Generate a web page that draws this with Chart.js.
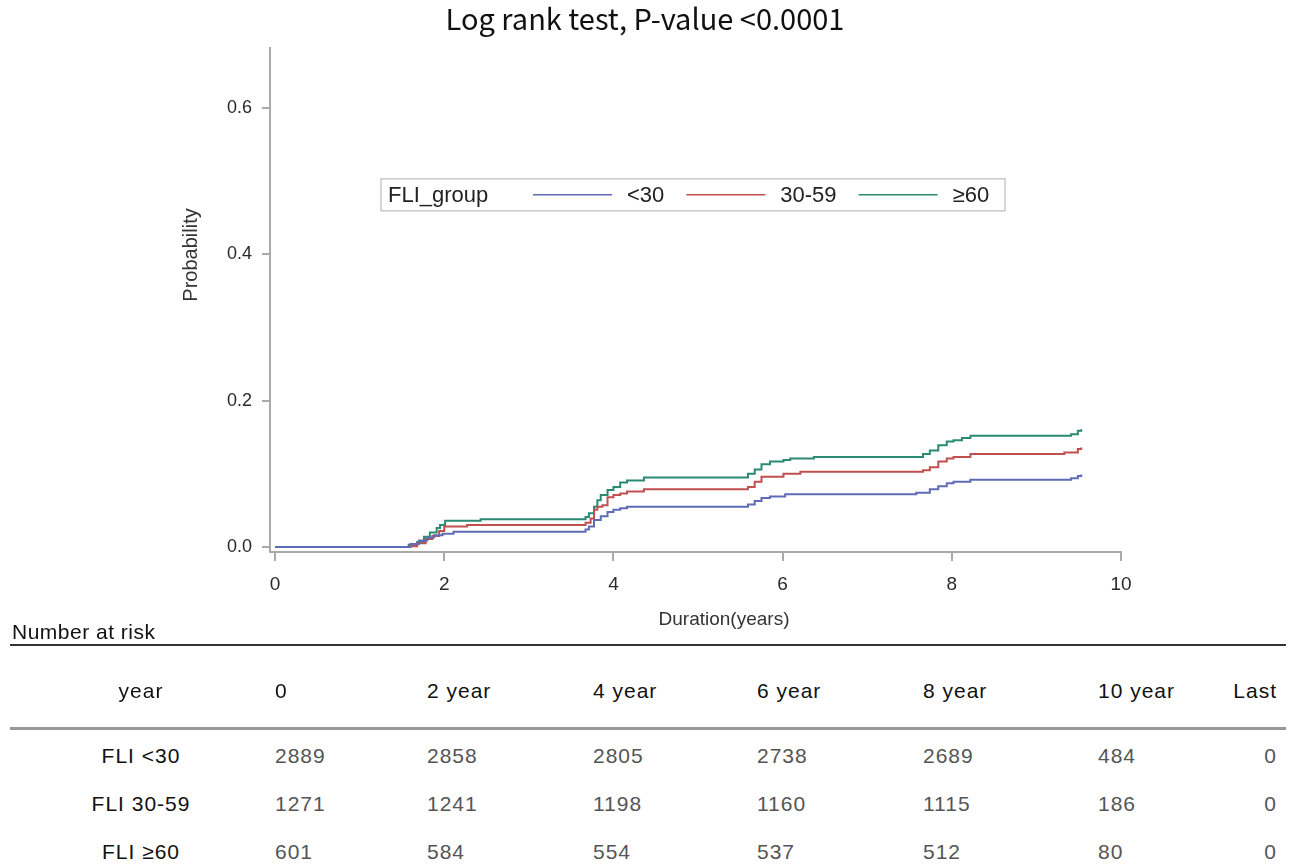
<!DOCTYPE html>
<html>
<head>
<meta charset="utf-8">
<script src="https://cdn.jsdelivr.net/npm/chart.js@4/dist/chart.umd.min.js"></script>
<style>
  body { margin: 0; background: #fff; }
  #wrap { position: relative; width: 1290px; height: 867px; overflow: hidden; }
  #kmChart { position: absolute; left: 0; top: 0; }
  .risk { position: absolute; font-family: "Liberation Sans Narrow", "Liberation Sans", sans-serif;
          font-size: 21px; letter-spacing: 1px; white-space: nowrap; line-height: 1; }
  .rule { position: absolute; left: 10px; width: 1276px; }
</style>
</head>
<body>
<div id="wrap">
  <canvas id="kmChart" width="1290" height="645"></canvas>
</div>
<script>
// survival curves (years, cumulative probability)
const timesLow = [0, 1.60, 1.70, 1.80, 1.88, 1.98, 2.11, 3.67, 3.71, 3.77, 3.85, 3.93, 4.00, 4.08, 4.16,
  5.59, 5.67, 5.75, 5.85, 6.03, 7.58, 7.74, 7.84, 7.94, 8.02, 8.22, 9.41, 9.49, 9.53];
const probLow = [0, 0.004, 0.009, 0.013, 0.016, 0.018, 0.021, 0.024, 0.028, 0.037, 0.042, 0.048, 0.051, 0.053, 0.055,
  0.058, 0.063, 0.067, 0.069, 0.072, 0.074, 0.079, 0.083, 0.087, 0.089, 0.092, 0.094, 0.097, 0.099];

const timesMid = [0, 1.58, 1.68, 1.78, 1.86, 1.94, 2.00, 2.27, 3.67, 3.73, 3.77, 3.81, 3.87, 3.93, 4.00, 4.08, 4.16, 4.36,
  5.59, 5.67, 5.75, 6.01, 6.21, 7.66, 7.74, 7.84, 7.94, 8.02, 8.22, 9.33, 9.49, 9.53];
const probMid = [0, 0.001, 0.005, 0.011, 0.015, 0.022, 0.028, 0.030, 0.033, 0.039, 0.051, 0.055, 0.057, 0.068, 0.071, 0.073, 0.076, 0.079,
  0.082, 0.089, 0.096, 0.100, 0.103, 0.105, 0.109, 0.117, 0.121, 0.123, 0.127, 0.129, 0.134, 0.136];

const timesHigh = [0, 1.58, 1.68, 1.76, 1.83, 1.91, 1.95, 2.01, 2.43, 3.67, 3.71, 3.77, 3.81, 3.85, 3.93, 4.00, 4.08, 4.16, 4.36,
  5.59, 5.67, 5.75, 5.85, 6.01, 6.09, 6.37, 7.66, 7.74, 7.84, 7.94, 8.02, 8.12, 8.22, 9.41, 9.49, 9.53];
const probHigh = [0, 0.003, 0.007, 0.014, 0.020, 0.026, 0.030, 0.036, 0.038, 0.041, 0.046, 0.055, 0.064, 0.071, 0.078, 0.082, 0.088, 0.091, 0.095,
  0.100, 0.106, 0.113, 0.117, 0.119, 0.121, 0.123, 0.127, 0.132, 0.139, 0.144, 0.146, 0.149, 0.152, 0.154, 0.159, 0.161];

const groupLabels = ["<30", "30-59", "\u226560"];
const xTicks = [0, 2, 4, 6, 8, 10];
const yTicks = [0, 0.2, 0.4, 0.6];

// number-at-risk table
const riskHeader = ["year", "0", "2 year", "4 year", "6 year", "8 year", "10 year", "Last"];
const riskRows = ["FLI <30", "FLI 30-59", "FLI \u226560"];
const riskLow = [2889, 2858, 2805, 2738, 2689, 484, 0];
const riskMid = [1271, 1241, 1198, 1160, 1115, 186, 0];
const riskHigh = [601, 584, 554, 537, 512, 80, 0];

const colors = ["#5f6bb5", "#c0504d", "#2a8a72"];

const toPoints = (ts, ps) => ts.map((t, i) => ({ x: t, y: ps[i] }));
const series = [toPoints(timesLow, probLow), toPoints(timesMid, probMid), toPoints(timesHigh, probHigh)];

const datasets = series.map((data, i) => ({
  label: groupLabels[i],
  data: data,
  stepped: true,
  borderColor: colors[i],
  borderWidth: 2,
  pointRadius: 0,
  fill: false,
}));

// legend box and axis titles drawn inside the plot like the SAS output
const kmDecor = {
  id: "kmDecor",
  afterDraw(chart) {
    const { ctx, chartArea: a } = chart;
    ctx.save();
    // legend
    const bx = a.left + 111, by = a.top + 131, bw = 624, bh = 32;
    ctx.fillStyle = "#fff";
    ctx.fillRect(bx, by, bw, bh);
    ctx.strokeStyle = "#c8c8c8";
    ctx.lineWidth = 1.5;
    ctx.strokeRect(bx, by, bw, bh);
    ctx.font = "22px 'Liberation Sans', sans-serif";
    ctx.fillStyle = "#222";
    ctx.textBaseline = "middle";
    ctx.textAlign = "left";
    const cy = by + bh / 2 + 1;
    ctx.fillText("FLI_group", bx + 7, cy);
    let x = bx + 152;
    chart.data.datasets.forEach((ds) => {
      ctx.strokeStyle = ds.borderColor;
      ctx.lineWidth = 1.5;
      ctx.beginPath();
      ctx.moveTo(x, cy - 1);
      ctx.lineTo(x + 79, cy - 1);
      ctx.stroke();
      ctx.fillStyle = "#222";
      ctx.fillText(ds.label, x + 94, cy);
      x += 94 + ctx.measureText(ds.label).width + 22;
    });
    // axis titles
    ctx.fillStyle = "#333";
    ctx.textAlign = "center";
    ctx.font = "19px 'Liberation Sans Narrow', 'Liberation Sans', sans-serif";
    ctx.fillText("Duration(years)", 724, 620);
    ctx.translate(191, 255);
    ctx.rotate(-Math.PI / 2);
    ctx.font = "20px 'Liberation Sans', sans-serif";
    ctx.fillText("Probability", 0, 0);
    ctx.restore();
  },
};

new Chart(document.getElementById("kmChart"), {
  type: "line",
  data: { datasets: datasets },
  plugins: [kmDecor],
  options: {
    responsive: false,
    animation: false,
    devicePixelRatio: 1,
    layout: { padding: 0 },
    scales: {
      x: {
        type: "linear",
        min: -0.06,
        max: 10,
        afterFit: (s) => { s.height = 93; },
        afterBuildTicks: (s) => { s.ticks = xTicks.map((v) => ({ value: v })); },
        grid: { drawOnChartArea: false, drawTicks: true, tickLength: 9, color: "#aaa", lineWidth: 2 },
        border: { display: true, color: "#aaa", width: 2 },
        ticks: { color: "#2a2a2a", font: { size: 19, family: "Liberation Sans" }, padding: 12, maxRotation: 0 },
      },
      y: {
        type: "linear",
        min: -0.0068,
        max: 0.682,
        afterFit: (s) => { s.width = 270; },
        afterBuildTicks: (s) => { s.ticks = yTicks.map((v) => ({ value: v })); },
        grid: { drawOnChartArea: false, drawTicks: true, tickLength: 8, color: "#aaa", lineWidth: 2 },
        border: { display: true, color: "#aaa", width: 2 },
        ticks: { color: "#2a2a2a", font: { size: 18, family: "Liberation Sans" }, padding: 10,
                 callback: (v) => v.toFixed(1) },
      },
      // empty right-hand axis: keeps the plot narrower while the title stays centred on the page
      yRight: {
        type: "linear",
        position: "right",
        min: 0,
        max: 1,
        afterFit: (s) => { s.width = 169; },
        grid: { display: false },
        border: { display: false },
        ticks: { display: false },
      },
    },
    plugins: {
      legend: { display: false },
      tooltip: { enabled: false },
      title: {
        display: true,
        text: "Log rank test, P-value <0.0001",
        color: "#111",
        font: { size: 29, family: "'Noto Sans CJK KR', 'Noto Sans', sans-serif", weight: "normal" },
        padding: { top: 2, bottom: 11 },
      },
    },
  },
});

// build the number-at-risk table
const wrap = document.getElementById("wrap");
const colLeft = [null, 275, 427, 593, 757, 923, 1098];
function addText(txt, y, col, color) {
  const d = document.createElement("div");
  d.className = "risk";
  d.textContent = txt;
  d.style.color = color;
  d.style.top = y + "px";
  if (col === 0) { d.style.left = "141px"; d.style.transform = "translateX(-50%)"; }
  else if (col === 7) { d.style.right = (1290 - 1277) + "px"; }
  else { d.style.left = colLeft[col] + "px"; }
  wrap.appendChild(d);
}
function addRule(y, h, color) {
  const r = document.createElement("div");
  r.className = "rule";
  r.style.top = y + "px";
  r.style.height = h + "px";
  r.style.background = color;
  wrap.appendChild(r);
}
const title = document.createElement("div");
title.className = "risk";
title.textContent = "Number at risk";
title.style.cssText = "left:12px;top:621px;color:#111;letter-spacing:0.5px;";
wrap.appendChild(title);
addRule(644, 2, "#333");
addRule(727, 3, "#999");
riskHeader.forEach((h, c) => addText(h, 680, c, "#111"));
[riskLow, riskMid, riskHigh].forEach((vals, r) => {
  addText(riskRows[r], 745 + r * 48, 0, "#111");
  vals.forEach((v, c) => addText(String(v), 745 + r * 48, c + 1, "#555"));
});
</script>
</body>
</html>
